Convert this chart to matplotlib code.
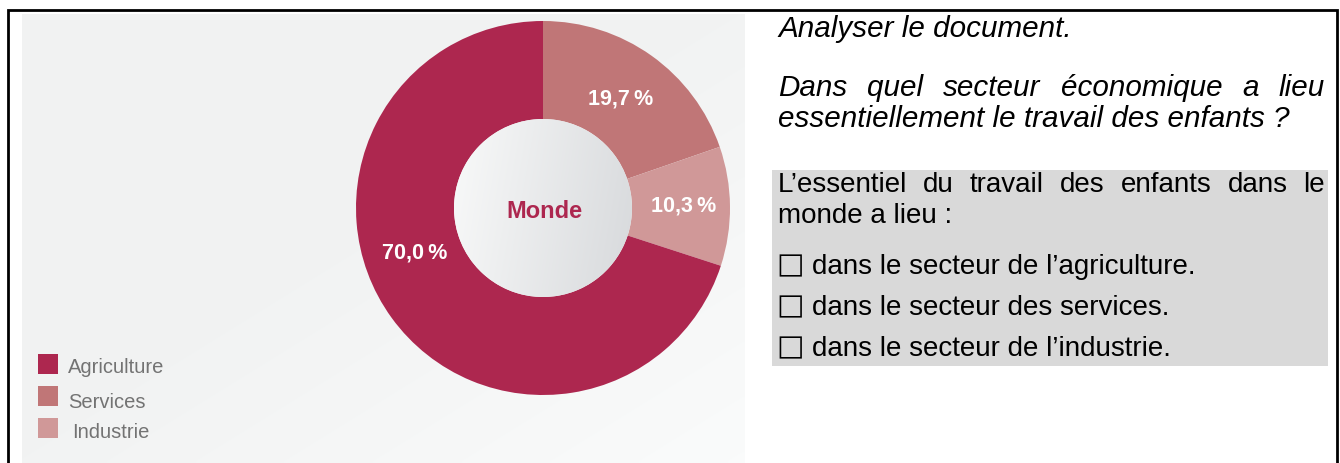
import numpy as np
import matplotlib
matplotlib.use('Agg')
import matplotlib.pyplot as plt
from matplotlib.patches import Rectangle, Circle

#-------------------------------------------------------------------------------
#data
#-------------------------------------------------------------------------------
sectors = ['Agriculture', 'Services', 'Industrie']
shares = [70.0, 19.7, 10.3]
sector_colors = ['#ad274f', '#c07677', '#d09898']
#order of the slices going clockwise from 12 o'clock
pie_order = [1, 2, 0]
centre_label = 'Monde'

question_title = 'Analyser le document.'
question_line1 = 'Dans quel secteur économique a lieu'
question_line2 = 'essentiellement le travail des enfants ?'
answer_line1 = 'L\u2019essentiel du travail des enfants dans le'
answer_line2 = 'monde a lieu :'
answer_choices = ['dans le secteur de l\u2019agriculture.',
                  'dans le secteur des services.',
                  'dans le secteur de l\u2019industrie.']

#-------------------------------------------------------------------------------
#figure in pixel coordinates (1 data unit = 1 pixel)
#-------------------------------------------------------------------------------
W, H = 1340, 463
fig = plt.figure(figsize=(W / 100, H / 100), dpi=100)
ax = fig.add_axes([0, 0, 1, 1])
ax.set_xlim(0, W)
ax.set_ylim(0, H)
ax.axis('off')

def Y(y):
    #convert a top-down pixel row into the axes y value
    return H - y

fonts = ['Liberation Sans', 'DejaVu Sans']

#outer frame (no bottom side)
ax.plot([7.5, 7.5, 1336.5, 1336.5], [0, Y(9.5), Y(9.5), 0], color='black',
        lw=2, solid_joinstyle='miter', zorder=1)

#light grey background of the document picture, slightly brighter bottom right
gx, gy = np.meshgrid(np.linspace(0, 1, 200), np.linspace(0, 1, 120))
shade = 0.950 + 0.035 * np.clip((gx + gy - 0.9) / 1.1, 0, 1)
bg = np.dstack([shade - 0.004, shade, shade])
ax.imshow(bg, extent=(22, 745, Y(463), Y(14)), origin='upper', aspect='auto',
          interpolation='bilinear', zorder=0)

#-------------------------------------------------------------------------------
#donut chart
#-------------------------------------------------------------------------------
cx, cy = 543, Y(208)
r_out, r_in = 187, 89
vals = [shares[i] for i in pie_order]
cols = [sector_colors[i] for i in pie_order]
wedges, _ = ax.pie(vals, colors=cols, startangle=90, counterclock=False,
                   radius=r_out, center=(cx, cy), frame=True,
                   wedgeprops=dict(width=r_out - r_in, linewidth=0))
ax.set_xlim(0, W)
ax.set_ylim(0, H)
ax.axis('off')

#inner disc with a soft left-to-right grey gradient
ix, iy = np.meshgrid(np.linspace(0, 1, 100), np.linspace(0, 1, 100))
t = np.clip(0.85 * ix + 0.15 * iy, 0, 1)
disc = np.dstack([0.975 - 0.13 * t, 0.978 - 0.125 * t, 0.978 - 0.115 * t])
im = ax.imshow(disc, extent=(cx - r_in, cx + r_in, cy - r_in, cy + r_in),
               origin='upper', interpolation='bilinear', zorder=3)
clip = Circle((cx, cy), r_in, transform=ax.transData)
im.set_clip_path(clip)

ax.text(cx + 1, cy - 3, centre_label, ha='center', va='center', fontsize=17,
        fontweight='bold', color=sector_colors[0], family=fonts, zorder=4)

#percentage labels (angle in degrees, distance from centre)
label_place = {1: (54.5, 134), 2: (1.0, 141), 0: (199.5, 136)}
for i, (ang, dist) in label_place.items():
    txt = ('%.1f' % shares[i]).replace('.', ',') + '\u2009%'
    a = np.radians(ang)
    ax.text(cx + dist * np.cos(a), cy + dist * np.sin(a), txt, ha='center',
            va='center', fontsize=15.5, fontweight='bold', color='white',
            family=fonts, zorder=4)

#legend squares and names
legend_rows = [(354, 373, 68), (386, 408, 68), (418, 438, 72)]
for name, col, (top, base, tx) in zip(sectors, sector_colors, legend_rows):
    ax.add_patch(Rectangle((38, Y(top + 20)), 20, 20, color=col, lw=0,
                           zorder=2))
    ax.text(tx, Y(base), name, ha='left', va='baseline', fontsize=14.5,
            color='#737373', family=fonts, zorder=2)

#-------------------------------------------------------------------------------
#question text on the right
#-------------------------------------------------------------------------------
renderer = fig.canvas.get_renderer()

def justify(line, x0, x1, y, **kw):
    #spread the words of one line so it fills x0..x1
    words = line.split(' ')
    texts = [ax.text(x0, y, w, ha='left', va='baseline', **kw) for w in words]
    widths = [tt.get_window_extent(renderer).width for tt in texts]
    gap = (x1 - x0 - sum(widths)) / (len(words) - 1)
    x = x0
    for tt, w in zip(texts, widths):
        tt.set_x(x)
        x += w + gap

body = dict(fontsize=20, color='black', family=fonts)
slanted = dict(fontsize=21.3, color='black', family=fonts, style='italic')
ax.text(778, Y(37), question_title, ha='left', va='baseline', **slanted)
justify(question_line1, 778, 1325, Y(96), **slanted)
ax.text(778, Y(127), question_line2, ha='left', va='baseline', **slanted)

ax.add_patch(Rectangle((772, Y(366)), 1328 - 772, 366 - 170,
                       color='#d9d9d9', lw=0, zorder=1))
justify(answer_line1, 778, 1325, Y(192), zorder=2, **body)
ax.text(778, Y(223), answer_line2, ha='left', va='baseline', zorder=2, **body)
for k, choice in enumerate(answer_choices):
    base = 274 + 41 * k
    ax.text(776, Y(base - 1), '\u25a1', ha='left', va='baseline', fontsize=21,
            color='black', family=['DejaVu Sans'], zorder=2)
    ax.text(812, Y(base), choice, ha='left', va='baseline', zorder=2, **body)

fig.savefig('out.png', dpi=100)
